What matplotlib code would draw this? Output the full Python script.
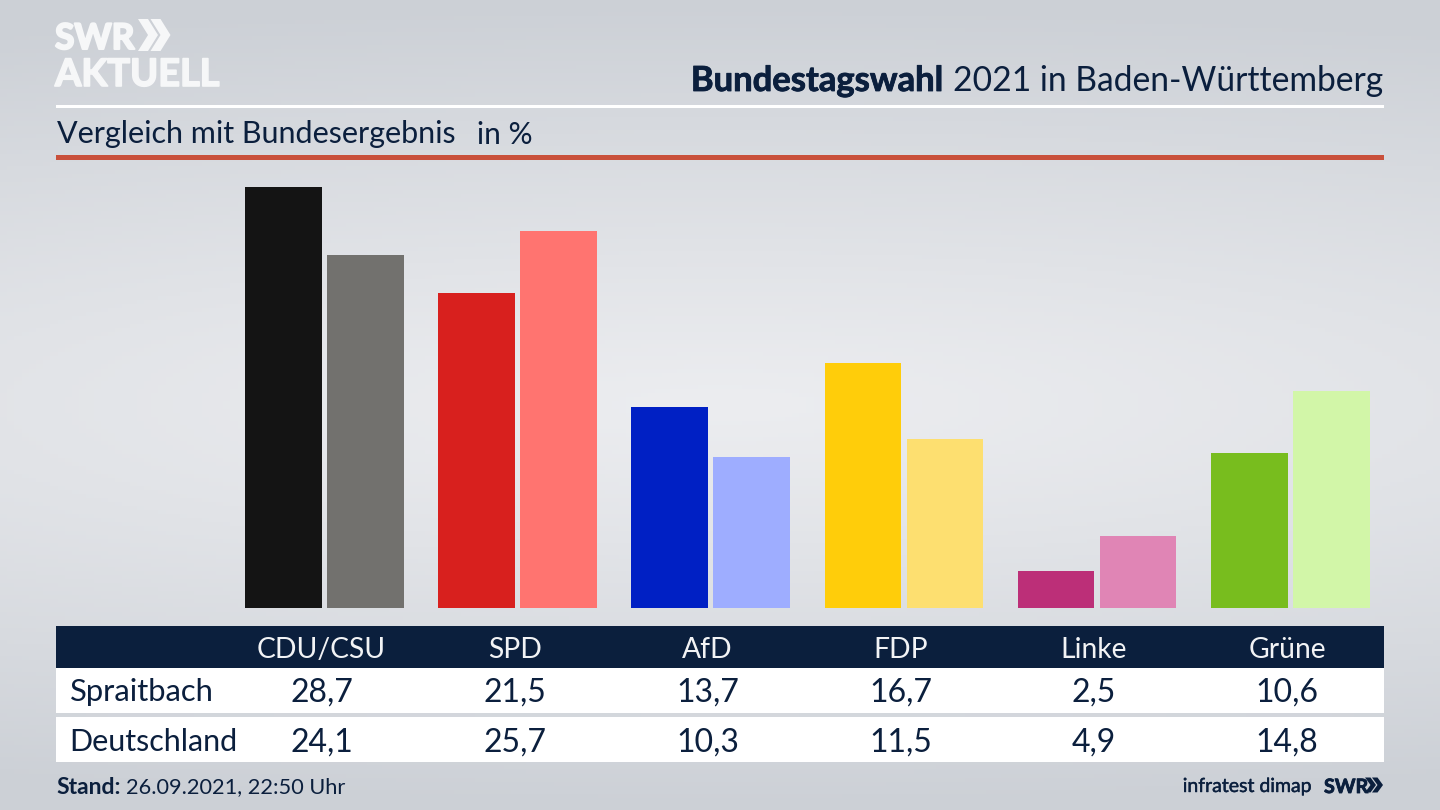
import numpy as np
import matplotlib
matplotlib.use("Agg")
import matplotlib.pyplot as plt
import matplotlib.patheffects as pe
from matplotlib.patches import Rectangle, Polygon

parties = ["CDU/CSU", "SPD", "AfD", "FDP", "Linke", "Grüne"]
spraitbach = [28.7, 21.5, 13.7, 16.7, 2.5, 10.6]
deutschland = [24.1, 25.7, 10.3, 11.5, 4.9, 14.8]
colors_local = ["#141414", "#d8201e", "#0020c4", "#ffcd0a", "#bc2f78", "#78bd1e"]
colors_national = ["#72716e", "#ff7470", "#9eadff", "#fddf70", "#e085b5", "#d2f6a8"]
row_names = ["Spraitbach", "Deutschland"]

NAVY = "#0b1f3d"
FONT = "Lato"
W, H = 1440, 810
fig = plt.figure(figsize=(14.4, 8.1), dpi=100)

bg = fig.add_axes([0, 0, 1, 1])
bg.set_xlim(0, W)
bg.set_ylim(H, 0)
bg.axis("off")
yy, xx = np.mgrid[0:1:200j, 0:1:200j]
d = np.clip(np.sqrt(((yy - 0.5) / 0.5) ** 2 + 0.12 * ((xx - 0.5) / 0.5) ** 2), 0, 1)
top = np.array([204, 208, 214]) / 255
mid = np.array([236, 237, 240]) / 255
img = mid + (top - mid) * d[..., None] ** 1.1
bg.imshow(img, extent=(0, W, H, 0), aspect="auto", zorder=0)
bg.set_xlim(0, W)
bg.set_ylim(H, 0)

def rect(x0, y0, x1, y1, c, z=1):
    bg.add_patch(Rectangle((x0, y0), x1 - x0, y1 - y0, fc=c, ec="none", zorder=z))

rect(56, 104.5, 1384, 107.5, "white")
rect(56, 155, 1384, 160, "#c9503b")
rect(56, 626, 1384, 668, NAVY)
rect(56, 668, 1384, 713, "white")
rect(56, 717, 1384, 762, "white")

def txt(x, y, s, size, c=NAVY, ha="left", weight="normal", stroke=0):
    t = bg.text(x, y, s, fontsize=size, color=c, ha=ha, va="center_baseline",
                family=FONT, weight=weight, zorder=3)
    if stroke:
        t.set_path_effects([pe.withStroke(linewidth=stroke, foreground=c)])
    return t

# title
txt(1383, 78, "2021 in Baden-Württemberg", 24.2, ha="right")
txt(944, 78, "Bundestagswahl", 24.9, ha="right", weight="bold", stroke=0.6)
txt(57, 132, "Vergleich mit Bundesergebnis", 22)
txt(477, 132, "in %", 21.5)

# logo
txt(55, 36, "SWR", 25.5, c="#f6f7f8", weight="bold", stroke=1.5)
txt(55, 72, "AKTUELL", 27.3, c="#f6f7f8", weight="bold", stroke=1.2)
def chevrons(x, y, h, w, gap, c):
    for k in range(2):
        x0 = x + k * gap
        bg.add_patch(Polygon([(x0, y - h / 2), (x0 + w * 0.5, y - h / 2), (x0 + w, y),
                              (x0 + w * 0.5, y + h / 2), (x0, y + h / 2), (x0 + w * 0.5, y)],
                             closed=True, fc=c, ec="none", zorder=3))
chevrons(138, 35, 32, 20, 12.5, "#f6f7f8")

# bars
scale = 14.655
ax = fig.add_axes([227.7 / W, 1 - 608 / H, 1159.2 / W, 438 / H])
ax.patch.set_alpha(0)
ax.set_xlim(-0.5, 5.5)
ax.set_ylim(0, 438 / scale)
ax.axis("off")
x = np.arange(len(parties))
bw = 76.6 / 193.2
off = 41 / 193.2
ax.bar(x - off, spraitbach, bw, color=colors_local)
ax.bar(x + off, deutschland, bw, color=colors_national)

# table
for i, p in enumerate(parties):
    cx = 321.5 + i * 193.1
    txt(cx, 647, p, 20.3, c="#f2f3f5", ha="center")
    txt(cx, 690, f"{spraitbach[i]:.1f}".replace(".", ","), 23, ha="center")
    txt(cx, 739.5, f"{deutschland[i]:.1f}".replace(".", ","), 23, ha="center")
txt(70, 690, row_names[0], 22.3)
txt(69, 739.5, row_names[1], 22)

# footer
txt(56, 785, "Stand:", 16.5, weight="bold")
txt(126, 785, "26.09.2021, 22:50 Uhr", 15.7)
txt(1312, 785, "infratest dimap", 14, ha="right", stroke=0.3)
txt(1324, 785, "SWR", 14.2, weight="bold", stroke=0.6)
chevrons(1365, 785, 15, 11, 7, NAVY)

fig.savefig("out.png", dpi=100)
